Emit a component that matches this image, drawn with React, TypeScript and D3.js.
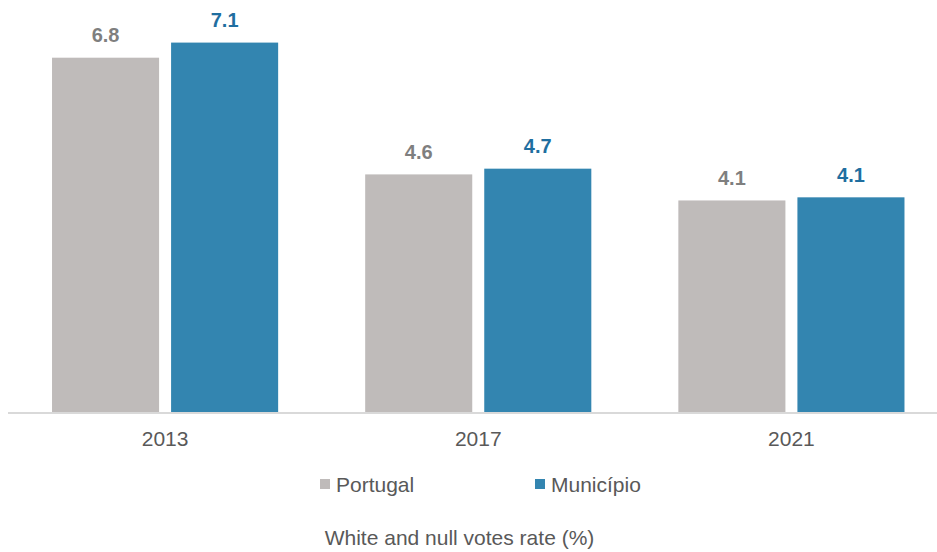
import React from "react";
import * as d3 from "d3";

const categories = ["2013", "2017", "2021"];
const seriesNames = ["Portugal", "Município"];
const portugal = [6.81, 4.57, 4.07];
const municipio = [7.1, 4.68, 4.13];
const title = "White and null votes rate (%)";

const colors = ["#BFBBBA", "#3385B0"];
const labelColors = ["#7F7F7F", "#1F6EA0"];

export default function App() {
  const width = 937;
  const height = 552;
  const baseline = 412.5;
  const font = "Arial, 'Liberation Sans', sans-serif";

  const x0 = d3.scaleBand<string>().domain(categories).range([8.5, 948]).padding(0);
  const x1 = d3
    .scaleBand<string>()
    .domain(seriesNames)
    .range([0, x0.bandwidth()])
    .paddingInner(0.1008)
    .paddingOuter(0.3655);
  const y = d3.scaleLinear().domain([0, 8]).range([baseline, baseline - 8 * 52.1]);

  const series = [portugal, municipio];

  return (
    <svg
      width={width}
      height={height}
      style={{ position: "absolute", left: 0, top: 0, background: "#fff" }}
      fontFamily={font}
    >
      {categories.map((c, i) => (
        <g key={c} transform={`translate(${x0(c)},0)`}>
          {seriesNames.map((s, j) => {
            const v = series[j][i];
            const bx = x1(s)!;
            const bw = x1.bandwidth();
            return (
              <g key={s}>
                <rect x={bx} y={y(v)} width={bw} height={baseline - y(v)} fill={colors[j]} />
                <text
                  x={bx + bw / 2}
                  y={y(v) - 15.5}
                  textAnchor="middle"
                  fontSize={20}
                  fontWeight="bold"
                  fill={labelColors[j]}
                >
                  {d3.format(".1f")(v)}
                </text>
              </g>
            );
          })}
          <text
            x={x0.bandwidth() / 2}
            y={445.5}
            textAnchor="middle"
            fontSize={21}
            fill="#595959"
          >
            {c}
          </text>
        </g>
      ))}
      <line x1={8} x2={937} y1={baseline + 0.5} y2={baseline + 0.5} stroke="#D9D9D9" strokeWidth={2} />
      {seriesNames.map((s, j) => {
        const lx = [320, 535][j];
        return (
          <g key={s}>
            <rect x={lx} y={479} width={10} height={10} fill={colors[j]} />
            <text x={lx + 16} y={491.5} fontSize={21} fill="#595959">
              {s}
            </text>
          </g>
        );
      })}
      <text x={459.5} y={545} textAnchor="middle" fontSize={21} fill="#595959">
        {title}
      </text>
    </svg>
  );
}
